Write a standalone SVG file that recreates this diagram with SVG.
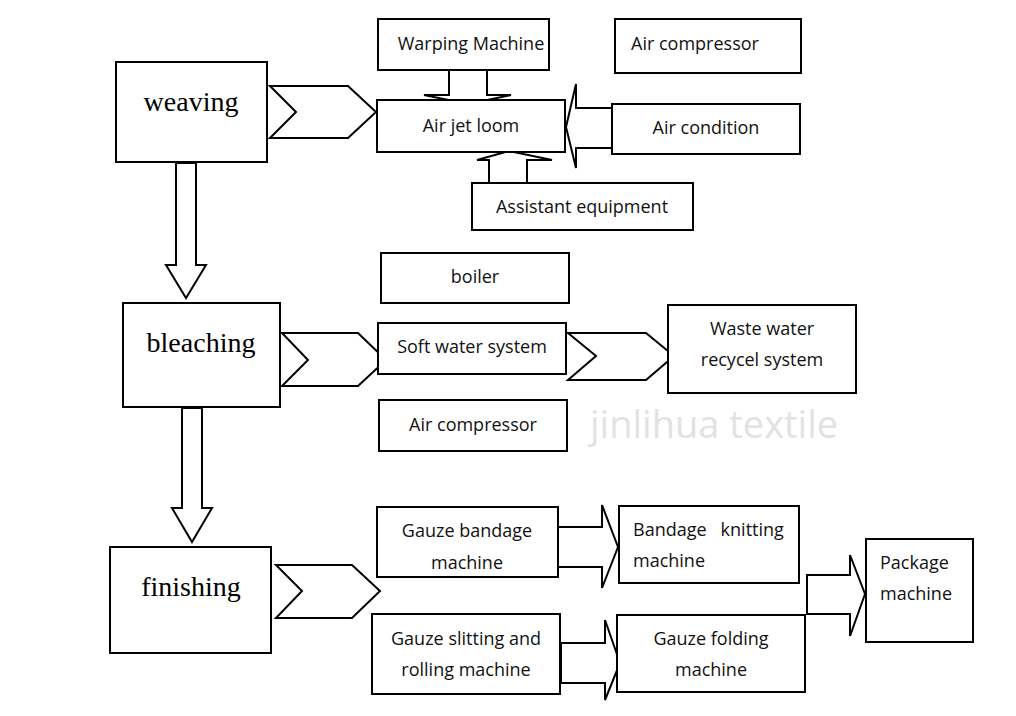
<svg xmlns="http://www.w3.org/2000/svg" width="1016" height="716" viewBox="0 0 1016 716">
<style>
.b{fill:#fff;stroke:#000;stroke-width:2}
.a{fill:#fff;stroke:#000;stroke-width:2;stroke-linejoin:miter}
.s{font-family:"Open Sans","DejaVu Sans",sans-serif;font-size:18px;fill:#111}
.r{font-family:"Liberation Serif",serif;font-size:28px;fill:#000;text-anchor:middle}
.m{text-anchor:middle}
</style>
<rect width="1016" height="716" fill="#fff"/>
<text x="590" y="438" font-family="'Open Sans',sans-serif" font-size="38" fill="#e2e2e2">jinlihua textile</text>
<g id="connectors">
<polygon class="a" points="270,86 348,86 376,112 348,138 270,138 296,112"/>
<polygon class="a" points="282,333 358,333 386,360 358,386 282,386 308,360"/>
<polygon class="a" points="568,333 646,333 674,356 646,380 568,380 596,356"/>
<polygon class="a" points="276,565 352,565 380,591 352,618 276,618 302,591"/>
<polygon class="a" points="176,163 196,163 196,265 206,265 186,298 166,265 176,265"/>
<polygon class="a" points="182,408 202,408 202,508 212,508 192,542 172,508 182,508"/>
<polygon class="a" points="449,70 487,70 487,95 511,95 468,104 424,95 449,95"/>
<polygon class="a" points="612,108 576,108 576,84 566,127 576,168 576,148 612,148"/>
<polygon class="a" points="489,185 527,185 527,160 552,160 509,151 477,160 489,160"/>
<polygon class="a" points="557,527 602,527 602,505 618,547 602,588 602,567 557,567"/>
<polygon class="a" points="561,643 605,643 605,620 620,663 605,700 605,683 561,683"/>
<polygon class="a" points="807,575 850,575 850,555 865,594 850,636 850,614 807,614"/>
</g>
<g id="weaving"><rect class="b" x="116" y="62" width="151" height="100"/><text class="r" x="191" y="111">weaving</text></g>
<g id="warping"><rect class="b" x="378" y="19" width="171" height="51"/><text class="s m" x="471" y="50">Warping Machine</text></g>
<g id="aircomp1"><rect class="b" x="615" y="19" width="186" height="54"/><text class="s" x="631" y="50">Air compressor</text></g>
<g id="airjet"><rect class="b" x="377" y="100" width="188" height="52"/><text class="s m" x="471" y="132">Air jet loom</text></g>
<g id="aircond"><rect class="b" x="612" y="104" width="188" height="50"/><text class="s m" x="706" y="134">Air condition</text></g>
<g id="assistant"><rect class="b" x="472" y="183" width="221" height="47"/><text class="s m" x="582" y="213">Assistant equipment</text></g>
<g id="bleaching"><rect class="b" x="123" y="303" width="157" height="104"/><text class="r" x="201" y="352">bleaching</text></g>
<g id="boiler"><rect class="b" x="381" y="253" width="188" height="50"/><text class="s m" x="475" y="283">boiler</text></g>
<g id="softwater"><rect class="b" x="378" y="323" width="188" height="51"/><text class="s m" x="472" y="353">Soft water system</text></g>
<g id="waste"><rect class="b" x="668" y="305" width="188" height="88"/><text class="s m" x="762" y="335">Waste water</text><text class="s m" x="762" y="366">recycel system</text></g>
<g id="aircomp2"><rect class="b" x="379" y="400" width="188" height="51"/><text class="s m" x="473" y="431">Air compressor</text></g>
<g id="finishing"><rect class="b" x="110" y="547" width="161" height="106"/><text class="r" x="191" y="596">finishing</text></g>
<g id="gauzebandage"><rect class="b" x="377" y="507" width="181" height="70"/><text class="s m" x="467" y="537">Gauze bandage</text><text class="s m" x="467" y="569">machine</text></g>
<g id="knitting"><rect class="b" x="619" y="506" width="180" height="77"/><text class="s" x="633" y="536" xml:space="preserve">Bandage   knitting</text><text class="s" x="633" y="567">machine</text></g>
<g id="package"><rect class="b" x="866" y="539" width="107" height="103"/><text class="s" x="880" y="569">Package</text><text class="s" x="880" y="600">machine</text></g>
<g id="slitting"><rect class="b" x="372" y="614" width="188" height="80"/><text class="s m" x="466" y="645">Gauze slitting and</text><text class="s m" x="466" y="676">rolling machine</text></g>
<g id="folding"><rect class="b" x="617" y="615" width="188" height="77"/><text class="s m" x="711" y="645">Gauze folding</text><text class="s m" x="711" y="676">machine</text></g>
</svg>
